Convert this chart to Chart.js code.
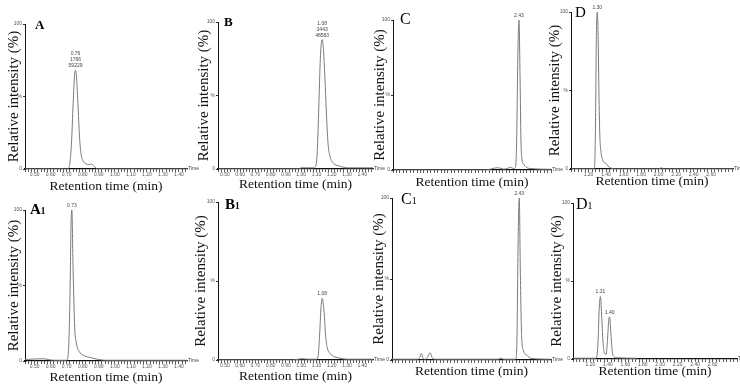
<!DOCTYPE html>
<html lang="en">
<head>
<meta charset="UTF-8">
<title>Chromatograms A-D / A1-D1</title>
<script src="https://cdn.jsdelivr.net/npm/chart.js"></script>
<style>
  body { margin: 0; background: #fff; }
  #wrap { position: relative; width: 740px; height: 386px; overflow: hidden; }
  #wrap canvas { position: absolute; }
  .tag { position: absolute; font-family: 'Liberation Serif', serif; line-height: 1; color: #000; white-space: nowrap; }
  .tag small { font-size: 0.62em; }
</style>
</head>
<body>
<div id="wrap"></div>

<script>
// tick labels
const ticksShort = ['0.50', '0.60', '0.70', '0.80', '0.90', '1.00', '1.10', '1.20', '1.30', '1.40'];
const ticksLong = ['1.20', '1.40', '1.60', '1.80', '2.00', '2.20', '2.40', '2.60'];

// A
const aTime = [0.44, 0.70, 0.71, 0.72, 0.73, 0.74, 0.75, 0.755, 0.76, 0.77, 0.78, 0.79, 0.80, 0.82, 0.84, 0.855, 0.87, 0.89, 1.45];
const aInt  = [0, 0, 0.5, 4, 18, 45, 66, 68, 65, 45, 22, 10, 6, 3.5, 3, 3.5, 2, 0, 0];
const aPeaks = [{ x: 0.755, y: 68, text: ['0.76', '1766', '59229'] }];

// B
const bTime = [0.455, 0.98, 1.00, 1.08, 1.095, 1.105, 1.115, 1.125, 1.132, 1.137, 1.145, 1.155, 1.165, 1.175, 1.19, 1.21, 1.25, 1.30, 1.47];
const bInt  = [0, 0, 0.8, 0.8, 2, 12, 42, 75, 86, 88, 82, 62, 38, 18, 8, 4, 2, 0.8, 0.8];
const bPeaks = [{ x: 1.137, y: 88, text: ['1.08', '3443', '48583'] }];

// C
const cTime = [0.97, 2.05, 2.12, 2.18, 2.22, 2.26, 2.30, 2.34, 2.37, 2.395, 2.41, 2.425, 2.437, 2.45, 2.46, 2.47, 2.49, 2.52, 2.56, 2.81];
const cInt  = [0, 0, 0.8, 1.5, 1.2, 0.6, 1.0, 1.8, 1.0, 1.5, 20, 80, 100, 60, 20, 8, 4, 2, 1, 0.5];
const cPeaks = [{ x: 2.437, y: 100, text: ['2.43'] }];

// D
const dTime = [1.0, 1.26, 1.27, 1.28, 1.29, 1.30, 1.31, 1.32, 1.33, 1.34, 1.36, 1.38, 1.40, 1.42, 1.46, 1.50, 2.00, 2.03, 2.06, 2.85];
const dInt  = [0, 0, 2, 30, 85, 100, 85, 45, 20, 12, 6, 4, 3.5, 2, 0.5, 0, 0, 0.8, 0, 0];
const dPeaks = [{ x: 1.30, y: 100, text: ['1.30'] }];

// A1
const a1Time = [0.44, 0.55, 0.62, 0.68, 0.70, 0.71, 0.72, 0.727, 0.732, 0.74, 0.75, 0.76, 0.78, 0.80, 0.84, 0.90, 0.95, 1.45];
const a1Int  = [1, 1.5, 0.5, 0.5, 0.5, 5, 40, 90, 100, 60, 22, 12, 6, 4, 2.5, 1, 0.5, 0.5];
const a1Peaks = [{ x: 0.732, y: 100, text: ['0.73'] }];

// B1
const b1Time = [0.455, 0.95, 1.00, 1.05, 1.10, 1.11, 1.12, 1.13, 1.137, 1.15, 1.16, 1.17, 1.19, 1.22, 1.26, 1.30, 1.47];
const b1Int  = [0, 0, 0.8, 0.5, 0.5, 2, 15, 34, 39, 30, 15, 8, 4, 2, 1, 0.5, 0.5];
const b1Peaks = [{ x: 1.137, y: 39, text: ['1.08'] }];

// C1
const c1Time = [0.97, 1.27, 1.29, 1.31, 1.33, 1.36, 1.38, 1.41, 1.44, 1.48, 2.20, 2.23, 2.26, 2.40, 2.415, 2.43, 2.443, 2.455, 2.47, 2.49, 2.53, 2.58, 2.81];
const c1Int  = [0.5, 0.5, 1.5, 4, 1, 0.5, 1.5, 4.5, 1, 0.5, 0.5, 1.2, 0.5, 0.5, 10, 75, 100, 55, 15, 6, 3, 1, 0.5];
const c1Peaks = [{ x: 2.443, y: 100, text: ['2.43'] }];

// D1
const d1Time = [1.0, 1.26, 1.275, 1.29, 1.30, 1.315, 1.33, 1.345, 1.36, 1.38, 1.395, 1.41, 1.42, 1.435, 1.45, 1.47, 1.50, 1.725];
const d1Int  = [0.5, 0.5, 2, 15, 32, 40, 26, 10, 4, 3, 12, 25, 27, 16, 5, 1.5, 0.8, 0.5];
const d1Peaks = [{ x: 1.315, y: 40, text: ['1.31'] }, { x: 1.42, y: 27, text: ['1.40'] }];

// panel layout: box = [axis left, axis right, top (100 %), baseline]
const panels = [
  { name: 'A', sub: '',  bold: true,  size: 13, lx: 35,  ly: 29,  t: aTime,  v: aInt,  peaks: aPeaks,  labels: ticksShort, step: 0.02, min: 0.44,  max: 1.45, box: [25, 187, 24, 169],  yT: 14,  xT: 187 },
  { name: 'B', sub: '',  bold: true,  size: 13, lx: 224, ly: 26,  t: bTime,  v: bInt,  peaks: bPeaks,  labels: ticksShort, step: 0.02, min: 0.455, max: 1.47, box: [218, 373, 22, 169], yT: 204, xT: 185 },
  { name: 'C', sub: '',  bold: false, size: 16, lx: 400, ly: 24,  t: cTime,  v: cInt,  peaks: cPeaks,  labels: ticksLong,  step: 0.04, min: 0.97,  max: 2.81, box: [393, 551, 20, 170], yT: 380, xT: 183 },
  { name: 'D', sub: '',  bold: false, size: 15, lx: 575, ly: 18,  t: dTime,  v: dInt,  peaks: dPeaks,  labels: ticksLong,  step: 0.04, min: 1.0,   max: 2.85, box: [571, 733, 12, 169], yT: 555, xT: 182 },
  { name: 'A', sub: '1', bold: true,  size: 15, lx: 30,  ly: 215, t: a1Time, v: a1Int, peaks: a1Peaks, labels: ticksShort, step: 0.02, min: 0.44,  max: 1.45, box: [25, 187, 210, 361], yT: 14,  xT: 378 },
  { name: 'B', sub: '1', bold: true,  size: 15, lx: 225, ly: 210, t: b1Time, v: b1Int, peaks: b1Peaks, labels: ticksShort, step: 0.02, min: 0.455, max: 1.47, box: [218, 373, 202, 360], yT: 201, xT: 377 },
  { name: 'C', sub: '1', bold: false, size: 16, lx: 401, ly: 204, t: c1Time, v: c1Int, peaks: c1Peaks, labels: ticksLong,  step: 0.04, min: 0.97,  max: 2.81, box: [392, 551, 198, 360], yT: 379, xT: 372 },
  { name: 'D', sub: '1', bold: false, size: 16, lx: 576, ly: 209, t: d1Time, v: d1Int, peaks: d1Peaks, labels: ticksLong,  step: 0.04, min: 1.0,   max: 2.88, box: [573, 737, 203, 359], yT: 557, xT: 372 }
];

// peak annotations + "Time" at the end of the x axis
const peakText = {
  id: 'peakText',
  afterDatasetsDraw(chart, args, opts) {
    const { ctx, chartArea, scales: { x, y } } = chart;
    ctx.save();
    ctx.font = '5px "Liberation Sans"';
    ctx.fillStyle = '#444';
    ctx.textAlign = 'center';
    ctx.textBaseline = 'bottom';
    (opts.peaks || []).forEach(pk => {
      const px = x.getPixelForValue(pk.x);
      const py = y.getPixelForValue(pk.y);
      const n = pk.text.length;
      pk.text.forEach((line, i) => ctx.fillText(line, px, py - 2 - (n - 1 - i) * 6));
    });
    ctx.textAlign = 'left';
    ctx.textBaseline = 'middle';
    ctx.fillText('Time', chartArea.right + 1, chartArea.bottom);
    ctx.restore();
  }
};

const wrap = document.getElementById('wrap');

panels.forEach(p => {
  const left = Math.round(p.yT - 9);
  const top = p.box[2] - 12;
  const bottom = Math.round(p.xT + 8);
  const right = p.box[1] + 12;
  const yW = p.box[0] - left;
  const xH = bottom - p.box[3];

  const cv = document.createElement('canvas');
  cv.width = right - left;
  cv.height = bottom - top;
  cv.style.left = left + 'px';
  cv.style.top = top + 'px';
  cv.style.width = (right - left) + 'px';
  cv.style.height = (bottom - top) + 'px';
  wrap.appendChild(cv);

  new Chart(cv.getContext('2d'), {
    type: 'line',
    data: {
      datasets: [{
        data: p.t.map((x, i) => ({ x: x, y: p.v[i] })),
        borderColor: '#7a7a7a',
        borderWidth: 1,
        pointRadius: 0,
        cubicInterpolationMode: 'monotone',
        fill: false
      }]
    },
    options: {
      responsive: false,
      animation: false,
      events: [],
      layout: { padding: { top: 12, right: 12, left: 0, bottom: 0 } },
      plugins: {
        legend: { display: false },
        tooltip: { enabled: false },
        peakText: { peaks: p.peaks }
      },
      scales: {
        x: {
          type: 'linear',
          min: p.min,
          max: p.max,
          afterFit: s => { s.height = xH; },
          border: { color: '#111', width: 1.2 },
          grid: { drawOnChartArea: false, tickLength: 3, color: '#333', lineWidth: 0.8 },
          ticks: {
            stepSize: p.step,
            autoSkip: false,
            includeBounds: false,
            maxRotation: 0,
            minRotation: 0,
            padding: 0,
            color: '#555',
            font: { family: 'Liberation Sans', size: 5 },
            callback: v => (p.labels.includes(v.toFixed(2)) ? v.toFixed(2) : '')
          },
          title: {
            display: true,
            text: 'Retention time (min)',
            color: '#111',
            padding: 0,
            font: { family: 'Liberation Serif', size: 13.5 }
          }
        },
        y: {
          min: 0,
          max: 100,
          afterFit: s => { s.width = yW; },
          border: { color: '#111', width: 1 },
          grid: { drawOnChartArea: false, tickLength: 2, color: '#333' },
          ticks: {
            stepSize: 50,
            padding: 1,
            color: '#555',
            font: { family: 'Liberation Sans', size: 5 },
            callback: v => (v === 50 ? '%' : v)
          },
          title: {
            display: true,
            text: 'Relative intensity (%)',
            color: '#111',
            padding: 0,
            font: { family: 'Liberation Serif', size: 15 }
          }
        }
      }
    },
    plugins: [peakText]
  });

  // panel letter
  const tag = document.createElement('div');
  tag.className = 'tag';
  tag.style.fontSize = p.size + 'px';
  tag.style.fontWeight = p.bold ? 'bold' : 'normal';
  tag.style.left = p.lx + 'px';
  tag.style.top = (p.ly - 0.84 * p.size) + 'px';
  tag.innerHTML = p.name + (p.sub ? '<small>' + p.sub + '</small>' : '');
  wrap.appendChild(tag);
});
</script>
</body>
</html>
